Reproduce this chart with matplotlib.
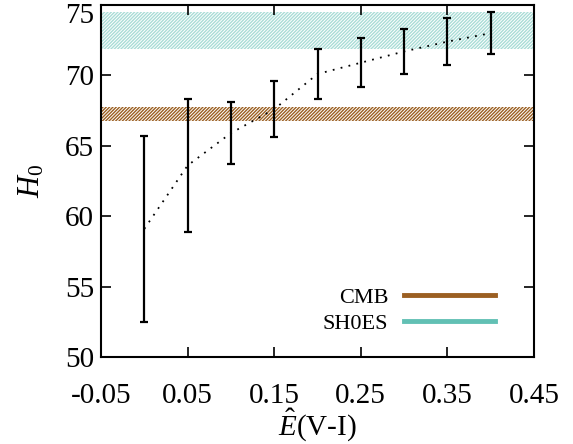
import matplotlib
matplotlib.use("Agg")
import matplotlib.pyplot as plt
import matplotlib.transforms as mtransforms
import numpy as np

x = [0.00, 0.05, 0.10, 0.15, 0.20, 0.25, 0.30, 0.35, 0.40]
h0 = [59.1, 63.6, 65.9, 67.6, 70.1, 70.9, 71.7, 72.4, 73.0]
h0_err = [6.6, 4.7, 2.2, 2.0, 1.8, 1.75, 1.6, 1.65, 1.5]

cmb_range = [66.75, 67.75]
shoes_range = [71.85, 74.5]

xticks = [-0.05, 0.05, 0.15, 0.25, 0.35, 0.45]
xticklabels = ["-0.05", "0.05", "0.15", "0.25", "0.35", "0.45"]
yticks = [50, 55, 60, 65, 70, 75]

cmb_color = "#9b5f22"
shoes_color = "#62c0b4"
shoes_hatch_color = "#a9ddd6"

plt.rcParams['font.family'] = ['Liberation Serif', 'DejaVu Serif']
plt.rcParams['mathtext.fontset'] = 'custom'
plt.rcParams['mathtext.it'] = 'Liberation Serif:italic'
plt.rcParams['mathtext.rm'] = 'Liberation Serif'
plt.rcParams['hatch.linewidth'] = 1.0

fig = plt.figure(figsize=(5.73, 4.44), dpi=100)
ax = fig.add_axes([101/573, 1 - 357/444, (534-101)/573, (357-5)/444])

xl = [-0.05, 0.45]
ax.fill_between(xl, [cmb_range[0]]*2, [cmb_range[1]]*2, facecolor='none',
                edgecolor=cmb_color, hatch='//////////', linewidth=0)
ax.fill_between(xl, [shoes_range[0]]*2, [shoes_range[1]]*2, facecolor='none',
                edgecolor=shoes_hatch_color, hatch='//////////', linewidth=0)

ax.plot(x, h0, color='black', linestyle=(0, (1, 3.5)), linewidth=1.3)
ax.errorbar(x, h0, yerr=h0_err, fmt='none', ecolor='black', elinewidth=1.6,
            capsize=3, capthick=1.6)

ax.plot([], [], color=cmb_color, lw=3.5, label='CMB')
ax.plot([], [], color=shoes_color, lw=3.5, label='SH0ES')
leg = ax.legend(loc='lower right', bbox_to_anchor=(0.93, 0.04), frameon=False,
                markerfirst=False, handlelength=4.1, fontsize=16,
                handletextpad=0.7, labelspacing=0.25, borderaxespad=0)

ax.set_xlim(xl)
ax.set_ylim(50, 75)
ax.set_xticks(xticks)
ax.set_xticklabels(xticklabels)
ax.set_yticks(yticks)
ax.tick_params(direction='in', length=7, width=1.2, top=True, right=True,
               labelsize=21)
ax.tick_params(axis='x', pad=19)
ax.tick_params(axis='y', pad=5)
for s in ax.spines.values():
    s.set_linewidth(1.5)

ylabels = ax.get_yticklabels()
ylabels[-1].set_transform(ylabels[-1].get_transform() +
                          mtransforms.ScaledTranslation(0, -8/100, fig.dpi_scale_trans))

ax.set_xlabel(r'$\hat{E}$(V-I)', fontsize=21, labelpad=-2)
ax.set_ylabel(r'$H_0$', fontsize=22, labelpad=13)

fig.savefig('out.png', dpi=100)
